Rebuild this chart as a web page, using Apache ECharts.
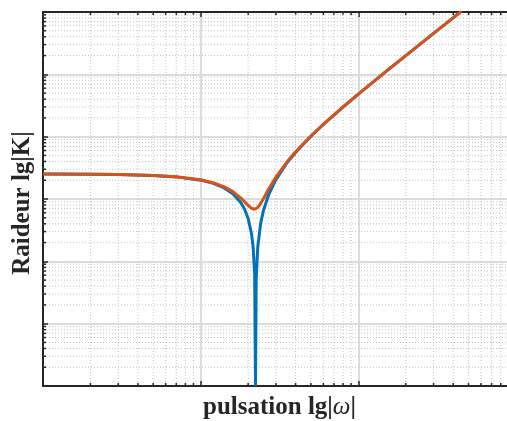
<!DOCTYPE html>
<html>
<head>
<meta charset="utf-8">
<script src="https://cdn.jsdelivr.net/npm/echarts@6/dist/echarts.min.js"></script>
<style>
  html, body { margin: 0; padding: 0; background: #fff; }
  #chart { width: 507px; height: 421px; }
</style>
</head>
<body>
<div id="chart"></div>
<script>
// pulsation values
const omega = [1, 2, 3, 5, 7, 10, 12, 14, 16, 18, 19, 20, 21, 21.5, 22, 22.28, 22.5, 23, 24, 25, 27, 30, 35, 40, 50, 60, 80, 100, 150, 200, 300, 450];
// undamped stiffness (blue)
const blueK = [2507, 2492, 2466, 2386, 2264, 2006, 1783, 1520, 1217, 872, 685, 488, 280, 173, 63, 1, 50, 165, 403, 651, 1177, 2043, 3687, 5585, 10139, 15706, 29875, 48092, 111357, 199905, 452914, 1022130];
// damped stiffness (orange)
const orangeK = [2507, 2492, 2468, 2390, 2274, 2030, 1822, 1581, 1314, 1035, 904, 789, 709, 689, 685, 691, 699, 732, 846, 1012, 1444, 2244, 3844, 5721, 10257, 15816, 29978, 48190, 111455, 200000, 453010, 1022200];

// minor grid positions
const minorX = [2, 3, 4, 5, 6, 7, 8, 9, 20, 30, 40, 50, 60, 70, 80, 90, 200, 300, 400, 500, 600, 700, 800, 900];
const minorY = [];
[1, 10, 100, 1000, 10000, 100000].forEach(d => {
  [2, 3, 4, 5, 6, 7, 8, 9].forEach(m => minorY.push(m * d));
});

const xMin = 1, xMax = 1000, yMin = 1, yMax = 1e6;
const axisColor = '#262626';

const chart = echarts.init(document.getElementById('chart'));

function renderMinorX(params, api) {
  const v = api.value(0);
  const top = api.coord([v, yMax]);
  const bot = api.coord([v, yMin]);
  return {
    type: 'group',
    children: [
      { type: 'line', shape: { x1: top[0], y1: top[1], x2: bot[0], y2: bot[1] },
        style: { stroke: '#c4c4c4', lineWidth: 1, lineDash: [1, 2] } },
      { type: 'line', shape: { x1: bot[0], y1: bot[1], x2: bot[0], y2: bot[1] - 3 },
        style: { stroke: axisColor, lineWidth: 1.5 } },
      { type: 'line', shape: { x1: top[0], y1: top[1], x2: top[0], y2: top[1] + 3 },
        style: { stroke: axisColor, lineWidth: 1.5 } }
    ]
  };
}

function renderMinorY(params, api) {
  const v = api.value(1);
  const left = api.coord([xMin, v]);
  const right = api.coord([xMax, v]);
  return {
    type: 'group',
    children: [
      { type: 'line', shape: { x1: left[0], y1: left[1], x2: right[0], y2: right[1] },
        style: { stroke: '#c4c4c4', lineWidth: 1, lineDash: [1, 2] } },
      { type: 'line', shape: { x1: left[0], y1: left[1], x2: left[0] + 3, y2: left[1] },
        style: { stroke: axisColor, lineWidth: 1.5 } }
    ]
  };
}

const option = {
  animation: false,
  backgroundColor: '#ffffff',
  grid: { left: 43, top: 12, width: 473, height: 374, outerBoundsMode: 'none', containLabel: false },
  xAxis: [
    {
      type: 'log', logBase: 10, min: xMin, max: xMax, splitNumber: 3,
      name: '{a|pulsation lg|}{b|ω}{a||}',
      nameLocation: 'middle', nameGap: 9,
      nameTextStyle: {
        rich: {
          a: { fontFamily: 'Liberation Serif', fontWeight: 'bold', fontSize: 25, color: '#262626' },
          b: { fontFamily: 'Liberation Serif', fontStyle: 'italic', fontSize: 25, color: '#262626' }
        }
      },
      axisLine: { show: true, lineStyle: { color: axisColor, width: 2 } },
      axisTick: { show: true, inside: true, length: 5, lineStyle: { color: axisColor, width: 1.5 } },
      axisLabel: { show: false },
      splitLine: { show: true, lineStyle: { color: '#dcdcdc', width: 2 } }
    },
    {
      type: 'log', logBase: 10, min: xMin, max: xMax, splitNumber: 3, position: 'top',
      axisLine: { show: true, lineStyle: { color: axisColor, width: 2 } },
      axisTick: { show: true, inside: true, length: 5, lineStyle: { color: axisColor, width: 1.5 } },
      axisLabel: { show: false },
      splitLine: { show: false }
    }
  ],
  yAxis: {
    type: 'log', logBase: 10, min: yMin, max: yMax, splitNumber: 6,
    name: 'Raideur lg|K|',
    nameLocation: 'middle', nameGap: 8,
    nameTextStyle: {
      fontFamily: 'Liberation Serif', fontWeight: 'bold', fontSize: 25, color: '#262626',
      padding: [0, 8, 0, 0]
    },
    axisLine: { show: true, lineStyle: { color: axisColor, width: 2 } },
    axisTick: { show: true, inside: true, length: 5, lineStyle: { color: axisColor, width: 1.5 } },
    axisLabel: { show: false },
    splitLine: { show: true, lineStyle: { color: '#dcdcdc', width: 2 } }
  },
  series: [
    { type: 'custom', renderItem: renderMinorX, data: minorX.map(v => [v, yMin]), z: 1, silent: true },
    { type: 'custom', renderItem: renderMinorY, data: minorY.map(v => [xMin, v]), z: 1, silent: true },
    {
      type: 'line', data: omega.map((w, i) => [w, blueK[i]]),
      showSymbol: false, clip: true, z: 3,
      lineStyle: { color: '#0072BD', width: 3 }, itemStyle: { color: '#0072BD' }
    },
    {
      type: 'line', data: omega.map((w, i) => [w, orangeK[i]]),
      showSymbol: false, clip: true, z: 4,
      lineStyle: { color: '#D95319', width: 3 }, itemStyle: { color: '#D95319' }
    }
  ]
};

chart.setOption(option);
</script>
</body>
</html>
